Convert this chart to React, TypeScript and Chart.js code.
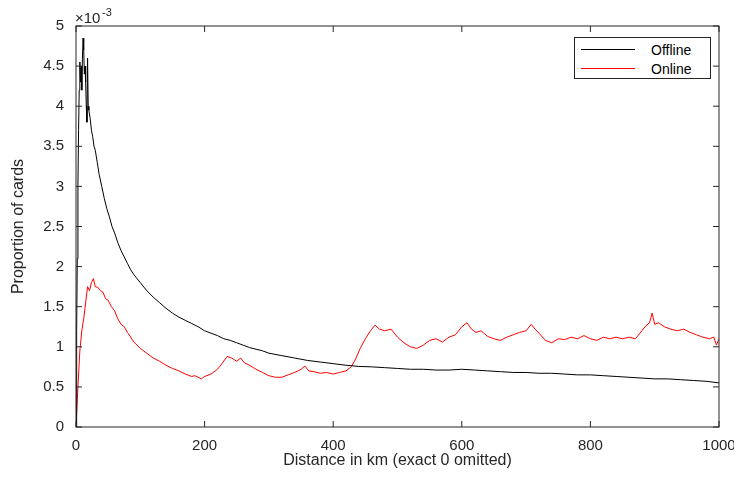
import React, { useRef, useEffect } from "react";
import { Chart, registerables } from "chart.js";

Chart.register(...registerables);

// distance (km) and proportion (x 1e-3)
const offlineKm = [0, 1, 2, 3, 4, 5, 6, 7, 8, 9, 10, 11, 12, 13, 14, 15, 16, 17, 18, 19, 20, 22, 24, 26, 28, 30, 33, 36, 40, 44, 48, 52, 56, 60, 65, 70, 75, 80, 85, 90, 95, 100, 110, 120, 130, 140, 150, 160, 170, 180, 190, 200, 210, 220, 230, 240, 250, 260, 270, 280, 290, 300, 320, 340, 360, 380, 400, 420, 440, 460, 480, 500, 520, 540, 560, 580, 600, 620, 640, 660, 680, 700, 720, 740, 760, 780, 800, 820, 840, 860, 880, 900, 920, 940, 960, 980, 1000];
const offlineVal = [0, 1.2, 2.1, 3.0, 3.7, 4.2, 4.55, 4.3, 4.5, 4.2, 4.6, 4.85, 4.7, 4.4, 4.5, 4.3, 4.0, 3.8, 4.6, 4.0, 3.95, 3.85, 3.7, 3.62, 3.5, 3.45, 3.3, 3.15, 3.0, 2.85, 2.72, 2.62, 2.5, 2.42, 2.3, 2.2, 2.12, 2.04, 1.96, 1.9, 1.85, 1.8, 1.7, 1.62, 1.55, 1.48, 1.42, 1.37, 1.33, 1.29, 1.25, 1.2, 1.17, 1.14, 1.1, 1.08, 1.05, 1.02, 0.99, 0.97, 0.95, 0.92, 0.89, 0.86, 0.83, 0.81, 0.79, 0.77, 0.755, 0.75, 0.74, 0.73, 0.72, 0.72, 0.71, 0.71, 0.72, 0.71, 0.7, 0.69, 0.68, 0.68, 0.67, 0.67, 0.66, 0.65, 0.65, 0.64, 0.63, 0.62, 0.61, 0.6, 0.6, 0.59, 0.58, 0.57, 0.55];

const onlineKm = [0, 3, 6, 9, 12, 15, 18, 21, 24, 27, 30, 34, 38, 42, 46, 50, 55, 60, 65, 70, 75, 80, 90, 100, 110, 120, 130, 140, 150, 160, 170, 180, 185, 190, 195, 200, 210, 220, 228, 235, 242, 250, 256, 262, 270, 280, 290, 300, 310, 320, 330, 340, 350, 356, 362, 370, 380, 390, 400, 410, 420, 428, 435, 442, 450, 458, 465, 472, 480, 490, 500, 510, 520, 530, 540, 550, 560, 570, 580, 590, 600, 608, 615, 622, 630, 640, 650, 660, 670, 680, 690, 700, 708, 714, 720, 730, 740, 750, 760, 770, 780, 790, 800, 810, 820, 830, 840, 850, 860, 870, 880, 886, 892, 896, 900, 906, 915, 925, 935, 945, 955, 965, 975, 985, 992, 996, 1000];
const onlineVal = [0, 0.5, 0.95, 1.2, 1.35, 1.55, 1.75, 1.7, 1.8, 1.85, 1.75, 1.74, 1.7, 1.68, 1.6, 1.58, 1.5, 1.45, 1.35, 1.28, 1.25, 1.18, 1.06, 0.98, 0.92, 0.86, 0.82, 0.77, 0.73, 0.7, 0.66, 0.63, 0.64, 0.62, 0.6, 0.63, 0.66, 0.72, 0.8, 0.88, 0.86, 0.82, 0.86, 0.8, 0.77, 0.72, 0.68, 0.64, 0.62, 0.62, 0.65, 0.68, 0.72, 0.76, 0.7, 0.69, 0.67, 0.68, 0.66, 0.68, 0.7, 0.75, 0.85, 0.98, 1.1, 1.2, 1.27, 1.22, 1.2, 1.22, 1.12, 1.05, 1.0, 0.98, 1.02, 1.08, 1.1, 1.06, 1.12, 1.15, 1.25, 1.3, 1.22, 1.18, 1.2, 1.13, 1.1, 1.08, 1.12, 1.15, 1.18, 1.2, 1.28, 1.22, 1.17, 1.08, 1.05, 1.1, 1.09, 1.12, 1.1, 1.14, 1.1, 1.08, 1.12, 1.1, 1.12, 1.1, 1.12, 1.1, 1.2, 1.26, 1.3, 1.42, 1.28, 1.3, 1.25, 1.22, 1.2, 1.22, 1.18, 1.15, 1.12, 1.1, 1.12, 1.02, 1.1];

const xTicks = [0, 200, 400, 600, 800, 1000];
const yTicks = [0, 0.5, 1, 1.5, 2, 2.5, 3, 3.5, 4, 4.5, 5];

const axisColor = "#262626";
const font = "Arial, 'Liberation Sans', sans-serif";

const toPoints = (xs: number[], ys: number[]) => xs.map((x, i) => ({ x, y: ys[i] }));

const framePlugin = {
  id: "frame",
  afterDraw(chart: any) {
    const { ctx, chartArea: a, scales } = chart;
    ctx.save();
    ctx.strokeStyle = axisColor;
    ctx.lineWidth = 1;
    ctx.strokeRect(a.left, a.top, a.right - a.left, a.bottom - a.top);
    ctx.beginPath();
    xTicks.forEach((t) => {
      const px = scales.x.getPixelForValue(t);
      ctx.moveTo(px, a.bottom); ctx.lineTo(px, a.bottom - 6);
      ctx.moveTo(px, a.top); ctx.lineTo(px, a.top + 6);
    });
    yTicks.forEach((t) => {
      const py = scales.y.getPixelForValue(t);
      ctx.moveTo(a.left, py); ctx.lineTo(a.left + 6, py);
      ctx.moveTo(a.right, py); ctx.lineTo(a.right - 6, py);
    });
    ctx.stroke();
    ctx.fillStyle = axisColor;
    ctx.textBaseline = "top";
    ctx.font = `15px ${font}`;
    ctx.fillText("\u00d710", a.left - 1, a.top - 15);
    ctx.font = `11px ${font}`;
    ctx.fillText("-3", a.left + 26, a.top - 19);
    ctx.restore();
  },
};

const App: React.FC = () => {
  const chartRef = useRef<HTMLCanvasElement | null>(null);

  useEffect(() => {
    if (!chartRef.current) return;
    const ctx = chartRef.current.getContext("2d");
    if (!ctx) return;

    const chartInstance = new Chart(ctx, {
      type: "line",
      data: {
        datasets: [
          { label: "Offline", data: toPoints(offlineKm, offlineVal), borderColor: "#000000", borderWidth: 1, pointRadius: 0, tension: 0 },
          { label: "Online", data: toPoints(onlineKm, onlineVal), borderColor: "#ff0000", borderWidth: 1, pointRadius: 0, tension: 0 },
        ],
      },
      options: {
        animation: false,
        responsive: false,
        layout: { padding: { left: 5, right: 23, top: 26, bottom: 5 } },
        plugins: { legend: { display: false }, tooltip: { enabled: false } },
        scales: {
          x: {
            type: "linear",
            min: 0,
            max: 1000,
            grid: { display: false },
            border: { display: false },
            afterBuildTicks: (s: any) => { s.ticks = xTicks.map((v) => ({ value: v })); },
            afterFit: (s: any) => { s.height = 47; },
            ticks: { color: axisColor, font: { size: 15, family: font }, padding: 2, callback: (v: any) => String(v) },
            title: { display: true, text: "Distance in km (exact 0 omitted)", color: axisColor, font: { size: 16, family: font }, padding: { top: 0 } },
          },
          y: {
            min: 0,
            max: 5,
            grid: { display: false },
            border: { display: false },
            afterBuildTicks: (s: any) => { s.ticks = yTicks.map((v) => ({ value: v })); },
            afterFit: (s: any) => { s.width = 71; },
            ticks: { color: axisColor, font: { size: 15, family: font }, padding: 4, callback: (v: any) => String(v) },
            title: { display: true, text: "Proportion of cards", color: axisColor, font: { size: 16, family: font }, padding: { bottom: 6 } },
          },
        },
      },
      plugins: [framePlugin],
    });

    return () => {
      chartInstance.destroy();
    };
  }, []);

  const row = (color: string, label: string) => (
    <div style={{ display: "flex", alignItems: "center", height: 19 }}>
      <span style={{ display: "inline-block", width: 54, height: 0, borderTop: `1px solid ${color}`, marginLeft: 6, marginRight: 16 }} />
      <span>{label}</span>
    </div>
  );

  return (
    <div style={{ position: "relative", width: 742, height: 479, margin: -8, background: "#fff" }}>
      <canvas ref={chartRef} width={742} height={479} />
      <div
        style={{
          position: "absolute", left: 574, top: 37, width: 137, height: 42, boxSizing: "border-box",
          border: `1px solid ${axisColor}`, background: "#fff", fontFamily: font, fontSize: 14, color: "#000", paddingTop: 2,
        }}
      >
        {row("#000000", "Offline")}
        {row("#ff0000", "Online")}
      </div>
    </div>
  );
};

export default App;
